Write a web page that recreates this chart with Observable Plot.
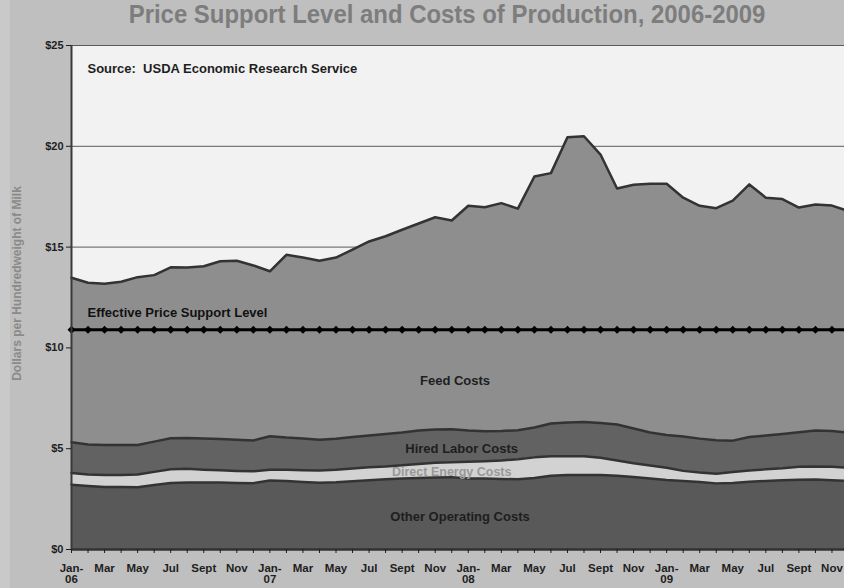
<!DOCTYPE html>
<html><head><meta charset="utf-8">
<script src="https://cdn.jsdelivr.net/npm/d3@7"></script>
<script src="https://cdn.jsdelivr.net/npm/@observablehq/plot@0.6"></script>
<style>
html,body{margin:0;padding:0;background:linear-gradient(to right,#c9c9c9 10px,#bfbfbf 10px);width:844px;height:588px;overflow:hidden;}
#title{height:30px;line-height:29px;text-align:center;font-family:"Liberation Sans Narrow","Liberation Sans",Arial,sans-serif;font-weight:bold;font-size:26px;color:#7d7d7d;white-space:nowrap}
#title span{display:inline-block;transform:scaleX(0.92);transform-origin:center;position:relative;left:25px}
svg{overflow:hidden}
</style></head><body>
<div id="title"><span>Price Support Level and Costs of Production, 2006-2009</span></div>
<div id="chart"></div>
<script>
// Month tick labels, Jan 2006 – Dec 2009 (every other month labelled)
const tickLabels = [
 "Jan-\n06","","Mar","","May","","Jul","","Sept","","Nov","",
 "Jan-\n07","","Mar","","May","","Jul","","Sept","","Nov","",
 "Jan-\n08","","Mar","","May","","Jul","","Sept","","Nov","",
 "Jan-\n09","","Mar","","May","","Jul","","Sept","","Nov",""
];
const seriesNames = ["Other Operating Costs","Direct Energy Costs","Hired Labor Costs","Feed Costs"];

const otherOperating = [3.21,3.15,3.10,3.10,3.09,3.20,3.30,3.32,3.32,3.32,3.30,3.29,
 3.42,3.40,3.35,3.31,3.33,3.38,3.43,3.48,3.52,3.55,3.57,3.59,
 3.52,3.52,3.50,3.48,3.55,3.66,3.69,3.70,3.70,3.66,3.60,3.52,
 3.45,3.40,3.35,3.28,3.30,3.36,3.40,3.43,3.46,3.47,3.44,3.40];
const directEnergy = [0.58,0.57,0.60,0.60,0.63,0.65,0.68,0.68,0.64,0.61,0.60,0.59,
 0.54,0.55,0.58,0.61,0.63,0.64,0.65,0.64,0.66,0.69,0.73,0.74,
 0.83,0.86,0.91,1.00,1.02,0.97,0.94,0.92,0.85,0.76,0.68,0.65,
 0.60,0.50,0.47,0.48,0.55,0.56,0.58,0.60,0.64,0.65,0.66,0.66];
const hiredLabor = [1.53,1.49,1.48,1.48,1.46,1.50,1.54,1.53,1.54,1.55,1.55,1.53,
 1.66,1.60,1.57,1.52,1.53,1.56,1.58,1.61,1.62,1.66,1.65,1.64,
 1.55,1.49,1.47,1.44,1.48,1.62,1.67,1.70,1.73,1.78,1.72,1.63,
 1.63,1.70,1.68,1.66,1.55,1.66,1.67,1.70,1.72,1.78,1.78,1.74];
const feed = [8.16,8.02,8.00,8.10,8.33,8.26,8.48,8.46,8.55,8.82,8.87,8.68,
 8.18,9.07,8.98,8.88,8.99,9.30,9.62,9.81,10.06,10.27,10.53,10.35,
 11.15,11.11,11.30,10.99,12.45,12.42,14.15,14.18,13.31,11.71,12.09,12.34,
 12.46,11.85,11.55,11.51,11.90,12.53,11.80,11.65,11.14,11.21,11.18,10.98];
const supportLevel = new Array(48).fill(10.90);
const yTicks = [0,5,10,15,20,25];

const fills = {"Other Operating Costs":"#595959","Direct Energy Costs":"#d2d2d2","Hired Labor Costs":"#626262","Feed Costs":"#8e8e8e"};
const seriesValues = [otherOperating, directEnergy, hiredLabor, feed];
const rows = [];
seriesNames.forEach((s, k) => seriesValues[k].forEach((v, i) => rows.push({i, series: s, value: v, color: fills[s]})));
const support = supportLevel.map((v, i) => ({i, value: v}));

const font = "'Liberation Sans', Arial, sans-serif";
const chart = Plot.plot({
  width: 844, height: 558,
  marginLeft: 71, marginRight: -4, marginTop: 15, marginBottom: 39,
  style: {background: "transparent", fontFamily: font, overflow: "hidden", color: "#1e1e1e"},
  x: {domain: [0, 47]},
  y: {domain: [0, 25]},
  color: {type: "identity"},
  marks: [
    Plot.frame({fill: "#f2f2f2", stroke: null}),
    Plot.ruleY(yTicks, {stroke: "#5a5a5a", strokeWidth: 1}),
    Plot.areaY(rows, {x: "i", y: "value", z: "series", fill: "color"}),
    Plot.lineY(rows, Plot.stackY2({x: "i", y: "value", z: "series", stroke: "#333", strokeWidth: 2.5})),
    Plot.lineY(support, {x: "i", y: "value", stroke: "#000", strokeWidth: 3}),
    Plot.dot(support, {x: "i", y: "value", symbol: "diamond2", r: 3.6, fill: "#000"}),
    Plot.ruleX([0], {stroke: "#3a3a3a", strokeWidth: 2}),
    Plot.ruleY([0], {stroke: "#333", strokeWidth: 2.5}),
    Plot.axisY({ticks: yTicks, tickFormat: d => "$" + d, tickSize: 5, tickPadding: 3, fontWeight: "bold", fontSize: 11, label: null}),
    Plot.axisX({ticks: d3.range(48), tickFormat: i => tickLabels[i], tickSize: 4, tickPadding: 10, fontWeight: "bold", fontSize: 11.5, label: null, lineHeight: 1.0}),
    Plot.text(["Dollars per Hundredweight of Milk"], {frameAnchor: "left", textAnchor: "middle", rotate: -90, dx: -54, dy: -14, fontWeight: "bold", fontSize: 12, fill: "#8a8a8a"}),
    Plot.text(["Source:  USDA Economic Research Service"], {frameAnchor: "top-left", dx: 16, dy: 18, textAnchor: "start", fontWeight: "bold", fontSize: 13, fill: "#1e1e1e"}),
    Plot.text(["Effective Price Support Level"], {x: 0.97, y: 11.72, textAnchor: "start", fontWeight: "bold", fontSize: 13, fill: "#111"}),
    Plot.text(["Feed Costs"], {x: 23.2, y: 8.38, fontWeight: "bold", fontSize: 13, fill: "#1e1e1e"}),
    Plot.text(["Hired Labor Costs"], {x: 23.6, y: 5.0, fontWeight: "bold", fontSize: 13, fill: "#1e1e1e"}),
    Plot.text(["Direct Energy Costs"], {x: 23.0, y: 3.82, fontWeight: "bold", fontSize: 12.5, fill: "#999"}),
    Plot.text(["Other Operating Costs"], {x: 23.5, y: 1.64, fontWeight: "bold", fontSize: 13, fill: "#1e1e1e"})
  ]
});
document.getElementById("chart").appendChild(chart);
</script>
</body></html>
